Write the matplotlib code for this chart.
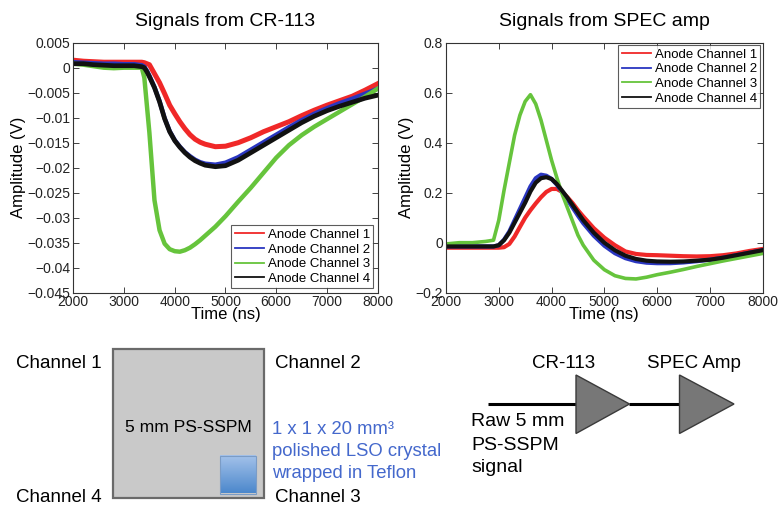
import numpy as np
import matplotlib
matplotlib.use("Agg")
import matplotlib.pyplot as plt
from matplotlib.patches import Rectangle, Polygon

plt.rcParams['font.family'] = ['Liberation Sans', 'DejaVu Sans']

# ---------------- data ----------------
series_names = ["Anode Channel 1", "Anode Channel 2", "Anode Channel 3", "Anode Channel 4"]
series_colors = ["#f02828", "#2a36c0", "#66c43c", "#111111"]

# Left panel: Signals from CR-113
t_left = [2000, 2200, 2400, 2600, 2800, 3000, 3200, 3350, 3400, 3450, 3500, 3600,
          3700, 3800, 3900, 4000, 4100, 4200, 4300, 4400, 4500, 4600, 4800, 5000,
          5250, 5500, 5750, 6000, 6250, 6500, 6750, 7000, 7250, 7500, 7750, 8000]
cr_ch1 = [0.0015, 0.0013, 0.0012, 0.0011, 0.0011, 0.0011, 0.0011, 0.0011, 0.0010, 0.0008,
          0.0006, -0.0012, -0.0030, -0.0052, -0.0075, -0.0092, -0.0108, -0.0122, -0.0134,
          -0.0143, -0.0149, -0.0153, -0.0158, -0.0157, -0.0150, -0.0140, -0.0128, -0.0118,
          -0.0108, -0.0096, -0.0085, -0.0075, -0.0066, -0.0057, -0.0045, -0.0032]
cr_ch2 = [0.0011, 0.0010, 0.0009, 0.0008, 0.0008, 0.0007, 0.0007, 0.0005, 0.0002, -0.0006,
          -0.0016, -0.0039, -0.0067, -0.0101, -0.0127, -0.0145, -0.0158, -0.0169, -0.0177,
          -0.0184, -0.0189, -0.0192, -0.0194, -0.0190, -0.0179, -0.0164, -0.0149, -0.0134,
          -0.0119, -0.0105, -0.0092, -0.0081, -0.0071, -0.0062, -0.0052, -0.0042]
cr_ch3 = [0.0008, 0.0006, 0.0003, 0.0000, -0.0001, 0.0000, 0.0000, 0.0000, -0.0020, -0.0075,
          -0.0130, -0.0265, -0.0325, -0.0352, -0.0363, -0.0367, -0.0368, -0.0365, -0.0360,
          -0.0353, -0.0345, -0.0336, -0.0318, -0.0297, -0.0268, -0.0240, -0.0210, -0.0180,
          -0.0155, -0.0135, -0.0118, -0.0103, -0.0088, -0.0073, -0.0058, -0.0042]
cr_ch4 = [0.0008, 0.0008, 0.0006, 0.0005, 0.0004, 0.0004, 0.0004, 0.0002, 0.0000, -0.0008,
          -0.0018, -0.0040, -0.0068, -0.0102, -0.0128, -0.0146, -0.0159, -0.0170, -0.0179,
          -0.0186, -0.0191, -0.0195, -0.0198, -0.0196, -0.0185, -0.0170, -0.0155, -0.0140,
          -0.0125, -0.0110, -0.0097, -0.0086, -0.0077, -0.0069, -0.0061, -0.0055]

# Right panel: Signals from SPEC amp
t_right = [2000, 2250, 2500, 2750, 2900, 3000, 3100, 3200, 3300, 3400, 3500, 3600, 3700,
           3800, 3900, 4000, 4100, 4200, 4300, 4400, 4500, 4600, 4800, 5000, 5200, 5400,
           5600, 5800, 6000, 6250, 6500, 6750, 7000, 7250, 7500, 7750, 8000]
sp_ch1 = [-0.020, -0.020, -0.020, -0.020, -0.020, -0.020, -0.018, -0.005, 0.025, 0.063,
          0.100, 0.130, 0.157, 0.182, 0.203, 0.215, 0.215, 0.203, 0.182, 0.158, 0.130,
          0.105, 0.058, 0.020, -0.010, -0.035, -0.045, -0.049, -0.050, -0.052, -0.054,
          -0.055, -0.054, -0.050, -0.043, -0.033, -0.025]
sp_ch2 = [-0.015, -0.015, -0.015, -0.015, -0.015, -0.010, 0.012, 0.045, 0.090, 0.135,
          0.180, 0.225, 0.258, 0.272, 0.268, 0.255, 0.232, 0.203, 0.172, 0.140, 0.108,
          0.078, 0.028, -0.012, -0.042, -0.062, -0.074, -0.080, -0.082, -0.082, -0.079,
          -0.074, -0.068, -0.060, -0.050, -0.040, -0.030]
sp_ch3 = [-0.005, 0.000, 0.000, 0.005, 0.010, 0.090, 0.210, 0.320, 0.430, 0.510, 0.565,
          0.592, 0.555, 0.490, 0.410, 0.330, 0.260, 0.195, 0.140, 0.085, 0.030, -0.010,
          -0.070, -0.108, -0.132, -0.143, -0.145, -0.138, -0.128, -0.118, -0.107, -0.095,
          -0.084, -0.073, -0.063, -0.053, -0.043]
sp_ch4 = [-0.015, -0.015, -0.015, -0.015, -0.015, -0.010, 0.010, 0.040, 0.080, 0.120,
          0.160, 0.205, 0.240, 0.258, 0.262, 0.255, 0.235, 0.208, 0.180, 0.150, 0.120,
          0.090, 0.040, 0.000, -0.030, -0.052, -0.065, -0.072, -0.075, -0.076, -0.075,
          -0.072, -0.068, -0.060, -0.050, -0.040, -0.030]

x_ticks = [2000, 3000, 4000, 5000, 6000, 7000, 8000]
x_ticklabels = ["2000", "3000", "4000", "5000", "6000", "7000", "8000"]
left_yticks = [0.005, 0, -0.005, -0.01, -0.015, -0.02, -0.025, -0.03, -0.035, -0.04, -0.045]
left_yticklabels = ["0.005", "0", "\u22120.005", "\u22120.01", "\u22120.015", "\u22120.02",
                    "\u22120.025", "\u22120.03", "\u22120.035", "\u22120.04", "\u22120.045"]
right_yticks = [0.8, 0.6, 0.4, 0.2, 0, -0.2]
right_yticklabels = ["0.8", "0.6", "0.4", "0.2", "0", "\u22120.2"]

W, H = 779, 508
fig = plt.figure(figsize=(W / 100, H / 100), dpi=100)


def style_axes(ax):
    ax.tick_params(direction="in", length=4, width=0.6, top=True, right=True,
                   labelsize=10, pad=2, colors="#222222")
    ax.tick_params(axis="x", pad=1.5)
    for s in ax.spines.values():
        s.set_linewidth(0.8)
        s.set_color("#333333")
    ax.set_xlabel("Time (ns)", fontsize=12, labelpad=-1)
    ax.set_ylabel("Amplitude (V)", fontsize=12, labelpad=1)


def add_legend(ax, loc, pad):
    leg = ax.legend(loc=loc, fontsize=9.5, frameon=True, fancybox=False,
                    edgecolor="#333333", borderpad=0.25, labelspacing=0.18,
                    handlelength=2.2, handletextpad=0.3, borderaxespad=pad)
    leg.get_frame().set_linewidth(0.8)
    for h in leg.get_lines():
        h.set_linewidth(1.3)
    return leg


# Left axes
axL = fig.add_axes([73.3 / W, 1 - 292.7 / H, 304.4 / W, 250 / H])
for y, c, n, lw in zip([cr_ch1, cr_ch2, cr_ch3, cr_ch4], series_colors, series_names,
                       [3.6, 3.2, 3.2, 3.4]):
    axL.plot(t_left, y, color=c, lw=lw, label=n, solid_joinstyle="round")
axL.set_xlim(2000, 8000)
axL.set_ylim(-0.045, 0.005)
axL.set_xticks(x_ticks)
axL.set_xticklabels(x_ticklabels)
axL.set_yticks(left_yticks)
axL.set_yticklabels(left_yticklabels)
style_axes(axL)
axL.set_title("Signals from CR-113", fontsize=14, pad=12)
add_legend(axL, "lower right", 0.35)

# Right axes
axR = fig.add_axes([446 / W, 1 - 292.7 / H, 316.7 / W, 250 / H])
for y, c, n, lw in zip([sp_ch1, sp_ch2, sp_ch3, sp_ch4], series_colors, series_names,
                       [3.0, 3.0, 2.6, 3.0]):
    axR.plot(t_right, y, color=c, lw=lw, label=n, solid_joinstyle="round")
axR.set_xlim(2000, 8000)
axR.set_ylim(-0.2, 0.8)
axR.set_xticks(x_ticks)
axR.set_xticklabels(x_ticklabels)
axR.set_yticks(right_yticks)
axR.set_yticklabels(right_yticklabels)
style_axes(axR)
axR.set_title("Signals from SPEC amp", fontsize=14, pad=12)
add_legend(axR, "upper right", 0.2)

# ---------------- bottom diagrams (pixel-coordinate overlay) ----------------
ov = fig.add_axes([0, 0, 1, 1], zorder=-1)
ov.set_xlim(0, W)
ov.set_ylim(H, 0)
ov.axis("off")

ov.add_patch(Rectangle((113.5, 348.5), 150.5, 149, facecolor="#c9c9c9",
                       edgecolor="#6a6a6a", lw=1.6))
grad = np.linspace(0, 1, 64)[:, None]
ov.imshow(grad, cmap=matplotlib.colors.LinearSegmentedColormap.from_list(
    "b", ["#a4c2ea", "#4c88cc"]), extent=(220, 256, 493.5, 455.5), aspect="auto",
    zorder=3)
ov.add_patch(Rectangle((220, 455.5), 36, 38, facecolor="none", edgecolor="#7b9cc6",
                       lw=0.8, zorder=4))

fs_d = 13.5
ov.text(16, 363, "Channel 1", fontsize=fs_d, va="center", ha="left")
ov.text(275, 363, "Channel 2", fontsize=fs_d, va="center", ha="left")
ov.text(16, 497, "Channel 4", fontsize=fs_d, va="center", ha="left")
ov.text(275, 497, "Channel 3", fontsize=fs_d, va="center", ha="left")
ov.text(188.5, 427, "5 mm PS-SSPM", fontsize=12.6, va="center", ha="center")
blue_txt = "#4468cc"
ov.text(272, 429, "1 x 1 x 20 mm\u00b3", fontsize=13.3, va="center", ha="left", color=blue_txt)
ov.text(272, 451.5, "polished LSO crystal", fontsize=13.3, va="center", ha="left", color=blue_txt)
ov.text(272, 474, "wrapped in Teflon", fontsize=13.3, va="center", ha="left", color=blue_txt)

# signal chain
ov.plot([488, 577], [404, 404], color="black", lw=2.2, solid_capstyle="butt")
ov.plot([629, 680], [404, 404], color="black", lw=2.2, solid_capstyle="butt")
ov.add_patch(Polygon([(576, 375), (576, 433.5), (629.5, 404)], closed=True,
                     facecolor="#777777", edgecolor="#3a3a3a", lw=1.0, zorder=3))
ov.add_patch(Polygon([(679.5, 375), (679.5, 433.5), (734, 404)], closed=True,
                     facecolor="#777777", edgecolor="#3a3a3a", lw=1.0, zorder=3))
ov.text(564, 363, "CR-113", fontsize=fs_d, va="center", ha="center")
ov.text(694, 363, "SPEC Amp", fontsize=fs_d, va="center", ha="center")
ov.text(471, 421, "Raw 5 mm", fontsize=14, va="center", ha="left")
ov.text(471, 445, "PS-SSPM", fontsize=14, va="center", ha="left")
ov.text(471, 467.5, "signal", fontsize=14, va="center", ha="left")

fig.savefig("out.png", dpi=100)
